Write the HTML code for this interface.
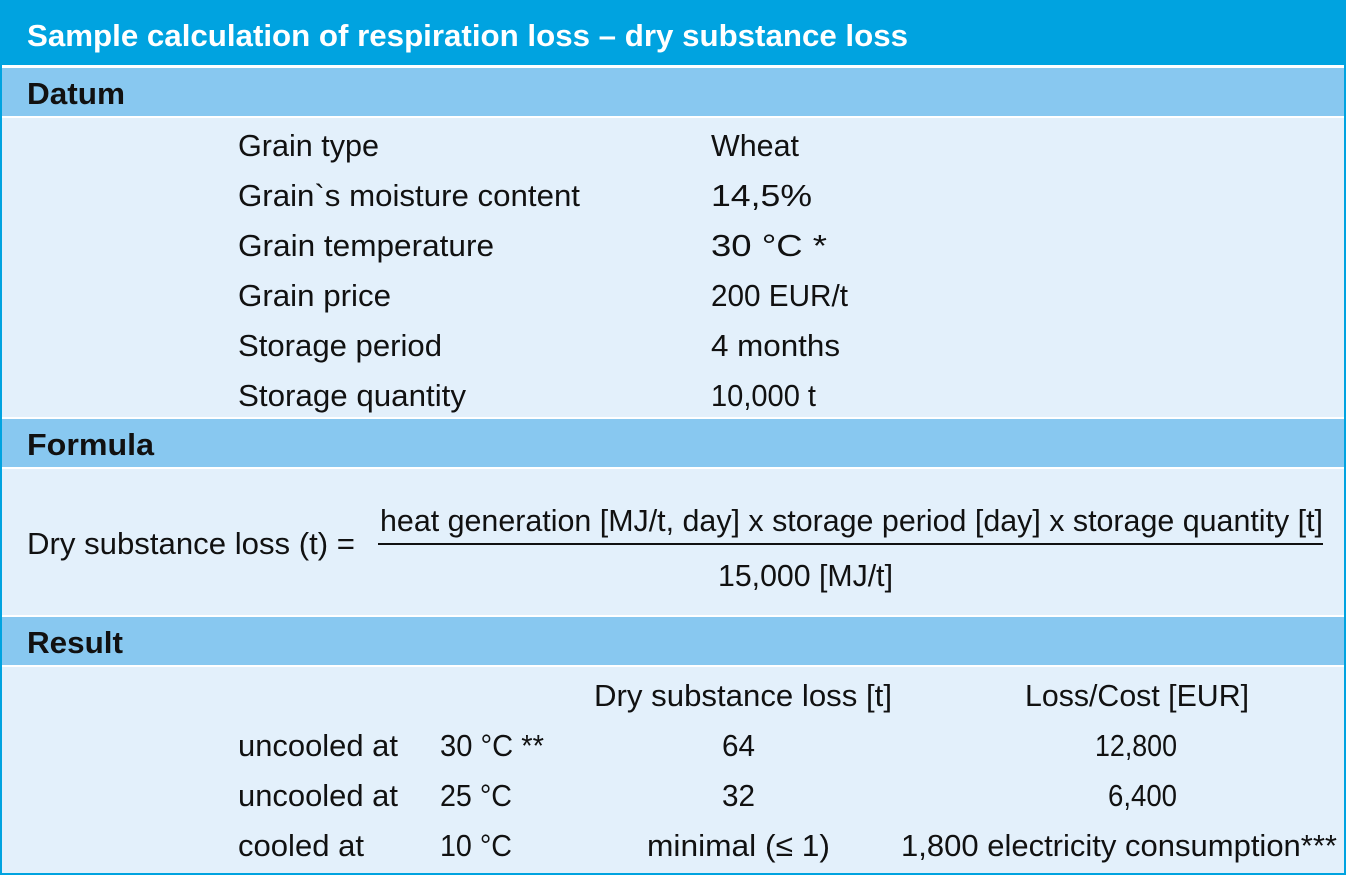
<!DOCTYPE html>
<html><head><meta charset="utf-8"><style>
html,body{margin:0;padding:0;width:1346px;height:875px;overflow:hidden;background:#fff}
svg{display:block}
text{font-family:"Liberation Sans Narrow","Liberation Sans",sans-serif;font-size:31px;fill:#111}
.b{font-weight:bold}
</style></head><body>
<svg width="1346" height="875" viewBox="0 0 1346 875">
<rect x="0" y="0" width="1346" height="875" fill="#00a3e0"/>
<rect x="2" y="0" width="1342" height="65" fill="#00a3e0"/>
<rect x="2" y="65" width="1342" height="3" fill="#fff"/>
<rect x="2" y="68" width="1342" height="48" fill="#88c8f0"/>
<rect x="2" y="116" width="1342" height="2" fill="#fff"/>
<rect x="2" y="118" width="1342" height="299" fill="#e3f0fb"/>
<rect x="2" y="417" width="1342" height="2" fill="#fff"/>
<rect x="2" y="419" width="1342" height="48" fill="#88c8f0"/>
<rect x="2" y="467" width="1342" height="2" fill="#fff"/>
<rect x="2" y="469" width="1342" height="146" fill="#e3f0fb"/>
<rect x="2" y="615" width="1342" height="2" fill="#fff"/>
<rect x="2" y="617" width="1342" height="48" fill="#88c8f0"/>
<rect x="2" y="665" width="1342" height="2" fill="#fff"/>
<rect x="2" y="667" width="1342" height="206" fill="#e3f0fb"/>

<text class="b" x="27" y="46" textLength="881" lengthAdjust="spacingAndGlyphs" style="fill:#fff">Sample calculation of respiration loss – dry substance loss</text>
<text class="b" x="27" y="104" textLength="98" lengthAdjust="spacingAndGlyphs">Datum</text>

<text x="238" y="156" textLength="141" lengthAdjust="spacingAndGlyphs">Grain type</text>
<text x="711" y="156" textLength="88" lengthAdjust="spacingAndGlyphs">Wheat</text>
<text x="238" y="206" textLength="342" lengthAdjust="spacingAndGlyphs">Grain`s moisture content</text>
<text x="711" y="206" textLength="101" lengthAdjust="spacingAndGlyphs">14,5%</text>
<text x="238" y="256" textLength="256" lengthAdjust="spacingAndGlyphs">Grain temperature</text>
<text x="711" y="256" textLength="116" lengthAdjust="spacingAndGlyphs">30 °C *</text>
<text x="238" y="306" textLength="153" lengthAdjust="spacingAndGlyphs">Grain price</text>
<text x="711" y="306" textLength="137" lengthAdjust="spacingAndGlyphs">200 EUR/t</text>
<text x="238" y="356" textLength="204" lengthAdjust="spacingAndGlyphs">Storage period</text>
<text x="711" y="356" textLength="129" lengthAdjust="spacingAndGlyphs">4 months</text>
<text x="238" y="406" textLength="228" lengthAdjust="spacingAndGlyphs">Storage quantity</text>
<text x="711" y="406" textLength="105" lengthAdjust="spacingAndGlyphs">10,000 t</text>

<text class="b" x="27" y="455" textLength="127" lengthAdjust="spacingAndGlyphs">Formula</text>
<text x="27" y="554" textLength="328" lengthAdjust="spacingAndGlyphs">Dry substance loss (t) =</text>
<text x="380" y="531" textLength="943" lengthAdjust="spacingAndGlyphs">heat generation [MJ/t, day] x storage period [day] x storage quantity [t]</text>
<rect x="378" y="543" width="945" height="2" fill="#111"/>
<text x="718" y="586" textLength="175" lengthAdjust="spacingAndGlyphs">15,000 [MJ/t]</text>

<text class="b" x="27" y="653" textLength="96" lengthAdjust="spacingAndGlyphs">Result</text>
<text x="594" y="706" textLength="298" lengthAdjust="spacingAndGlyphs">Dry substance loss [t]</text>
<text x="1025" y="706" textLength="224" lengthAdjust="spacingAndGlyphs">Loss/Cost [EUR]</text>

<text x="238" y="756" textLength="160" lengthAdjust="spacingAndGlyphs">uncooled at</text>
<text x="440" y="756" textLength="104" lengthAdjust="spacingAndGlyphs">30 °C **</text>
<text x="722" y="756" textLength="33" lengthAdjust="spacingAndGlyphs">64</text>
<text x="1095" y="756" textLength="82" lengthAdjust="spacingAndGlyphs">12,800</text>

<text x="238" y="806" textLength="160" lengthAdjust="spacingAndGlyphs">uncooled at</text>
<text x="440" y="806" textLength="72" lengthAdjust="spacingAndGlyphs">25 °C</text>
<text x="722" y="806" textLength="33" lengthAdjust="spacingAndGlyphs">32</text>
<text x="1108" y="806" textLength="69" lengthAdjust="spacingAndGlyphs">6,400</text>

<text x="238" y="856" textLength="126" lengthAdjust="spacingAndGlyphs">cooled at</text>
<text x="440" y="856" textLength="72" lengthAdjust="spacingAndGlyphs">10 °C</text>
<text x="647" y="856" textLength="183" lengthAdjust="spacingAndGlyphs">minimal (≤ 1)</text>
<text x="901" y="856" textLength="436" lengthAdjust="spacingAndGlyphs">1,800 electricity consumption***</text>
</svg>
</body></html>
